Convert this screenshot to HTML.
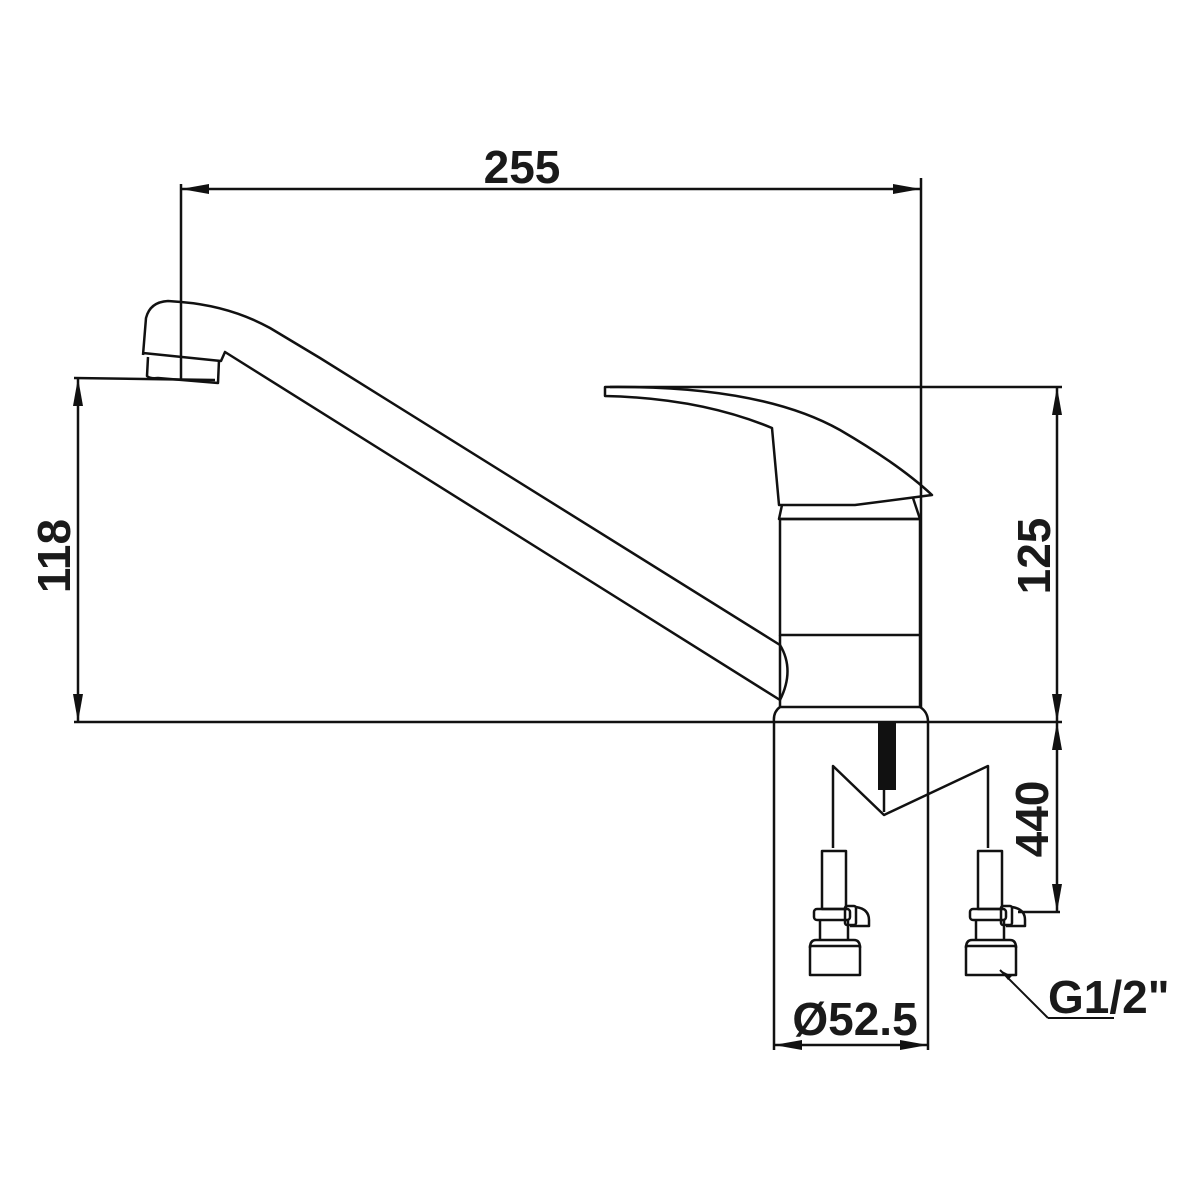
<!DOCTYPE html>
<html><head><meta charset="utf-8"><style>html,body{margin:0;padding:0;background:#fff}svg{display:block}</style></head>
<body>
<svg width="1200" height="1200" viewBox="0 0 1200 1200" xmlns="http://www.w3.org/2000/svg">
<defs>
<marker id="a" viewBox="0 0 28 10" refX="28" refY="5" markerWidth="28" markerHeight="10" markerUnits="userSpaceOnUse" orient="auto-start-reverse"><path d="M0,0 L28,5 L0,10 Z" fill="#111"/></marker>
</defs>
<g fill="none" stroke="#111" stroke-width="2.5" stroke-linejoin="round">
<!-- dimension 255 -->
<line x1="181" y1="184" x2="181" y2="380"/>
<line x1="921" y1="178" x2="921" y2="708"/>
<line x1="181" y1="189" x2="921" y2="189" marker-start="url(#a)" marker-end="url(#a)"/>
<!-- baseline -->
<line x1="74" y1="722" x2="1062" y2="722"/>
<!-- 118 -->
<line x1="74" y1="378" x2="215" y2="380"/>
<line x1="78" y1="378" x2="78" y2="722" marker-start="url(#a)" marker-end="url(#a)"/>
<!-- 125 -->
<line x1="610" y1="387" x2="1062" y2="387"/>
<line x1="1057" y1="387" x2="1057" y2="722" marker-start="url(#a)" marker-end="url(#a)"/>
<!-- 440 -->
<line x1="1057" y1="722" x2="1057" y2="912" marker-start="url(#a)" marker-end="url(#a)"/>
<line x1="1018" y1="912" x2="1060" y2="912"/>
<!-- 52.5 -->
<line x1="774" y1="722" x2="774" y2="1050"/>
<line x1="928" y1="722" x2="928" y2="1050"/>
<line x1="774" y1="1045" x2="928" y2="1045" marker-start="url(#a)" marker-end="url(#a)"/>
<!-- spout -->
<path d="M143,355 L146,318 Q150,302 168,301 L181,302 Q230,306 270,328 L320,358 L780,645 Q795,670 780,700 L225,352 L221,361 L143,353"/>
<path d="M148,357 L147,376 Q150,379 158,378 L218,383 L219,360"/>
<!-- lever -->
<path d="M605,387 Q760,385 840,430 Q900,465 932,495 L855,505 L779,505 L772,428 Q700,398 605,396 Z"/>
<!-- body -->
<path d="M782,505 L779,519 L920,519 L913,498"/>
<rect x="780" y="519" width="140" height="116"/>
<path d="M780,635 L780,707 L920,707 L920,635"/>
<path d="M780,707 Q773,712 774,722 M920,707 Q928,712 928,722"/>
<!-- hoses -->
<line x1="884" y1="790" x2="884" y2="812"/>
<path d="M833,848 L833,766 L884,815 L988,766 L988,848"/>
</g>
<rect x="878" y="722" width="18" height="68" fill="#111"/>
<g fill="none" stroke="#111" stroke-width="2.5" stroke-linejoin="round" id="c">
<rect x="822" y="851" width="24" height="58"/>
<rect x="814" y="909" width="36" height="11" rx="3"/>
<rect x="845" y="906" width="11" height="19" rx="2"/>
<path d="M856,907 Q869,909 869,920 L869,926 L850,926"/>
<line x1="820" y1="920" x2="820" y2="940"/><line x1="848" y1="920" x2="848" y2="940"/>
<path d="M810,948 Q810,940 816,940 L854,940 Q860,940 860,948"/>
<rect x="810" y="946" width="50" height="29"/>
</g>
<use href="#c" transform="translate(156,0)"/>
<line x1="1000" y1="970" x2="1048" y2="1018" stroke="#111" stroke-width="2"/>
<line x1="1048" y1="1018" x2="1114" y2="1018" stroke="#111" stroke-width="2"/>
<path d="M1000,970 L1012,976 L1008,980 Z" fill="#111"/>
<g font-family="Liberation Sans, sans-serif" font-weight="bold" font-size="46" fill="#1a1a1a">
<text x="522" y="183" text-anchor="middle">255</text>
<text transform="translate(70,556) rotate(-90)" text-anchor="middle">118</text>
<text transform="translate(1050,556) rotate(-90)" text-anchor="middle">125</text>
<text transform="translate(1048,819) rotate(-90)" text-anchor="middle">440</text>
<text x="855" y="1035" text-anchor="middle">Ø52.5</text>
<text x="1048" y="1013">G1/2"</text>
</g>
</svg>
</body></html>
